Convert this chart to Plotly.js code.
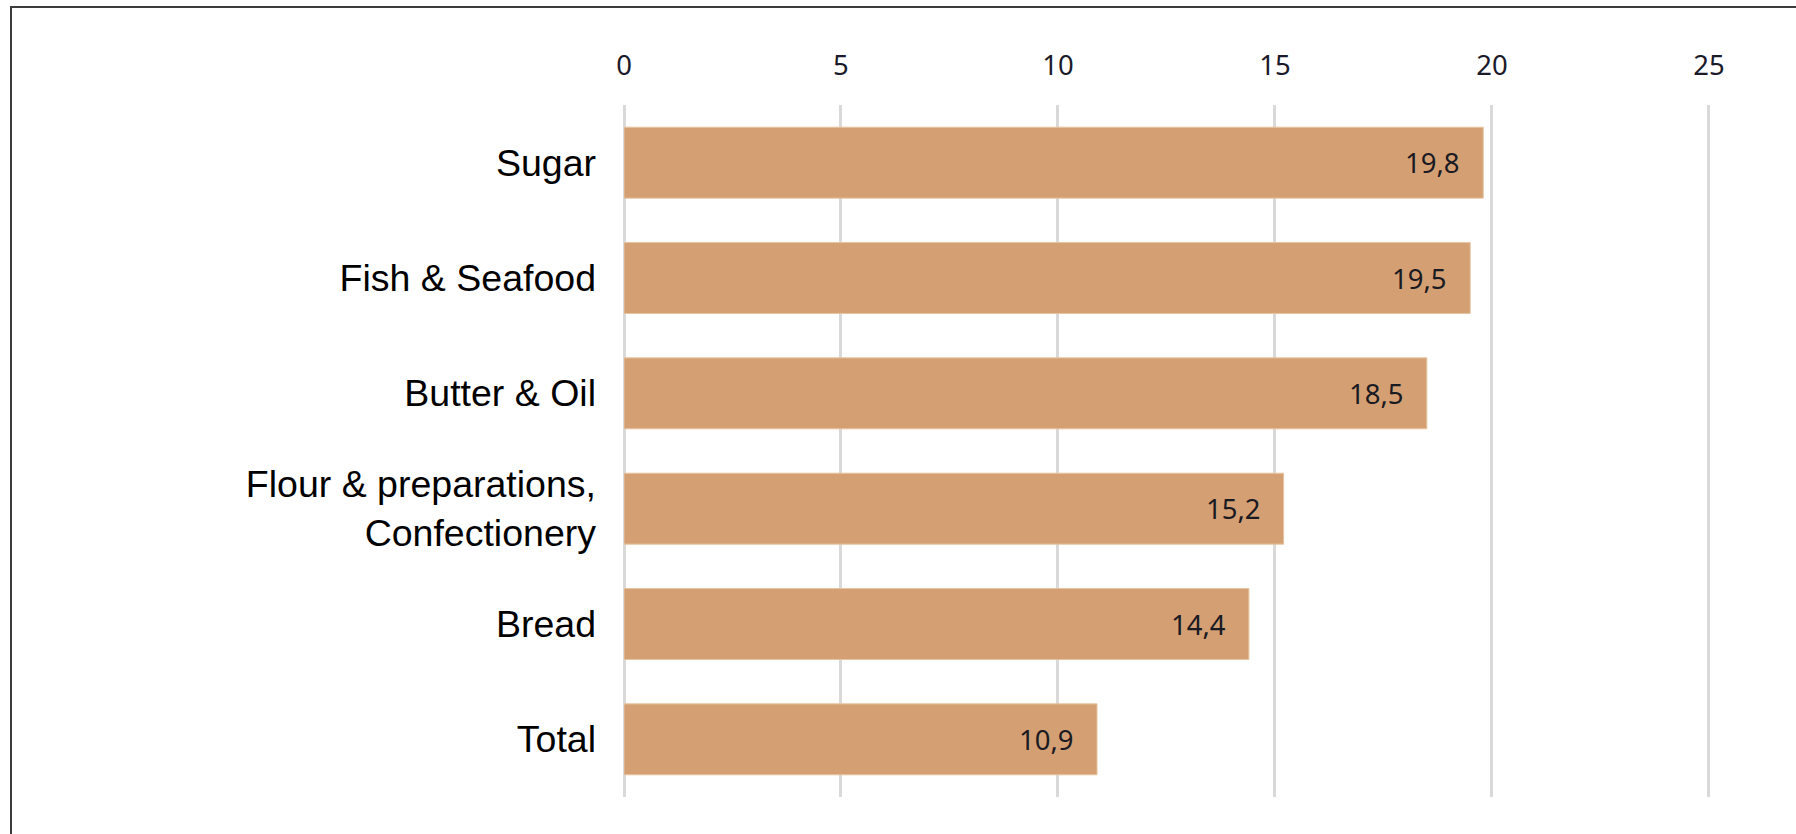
<!DOCTYPE html>
<html>
<head>
<meta charset="utf-8">
<script src="https://cdn.plot.ly/plotly-3.0.1.min.js"></script>
<style>
  html, body { margin: 0; padding: 0; background: #ffffff; overflow: hidden; }
  #chart { width: 1796px; height: 834px; }
  #frame { position: absolute; left: 10px; top: 6px; width: 2000px; height: 1000px;
           border-left: 2px solid #3c3c3c; border-top: 2px solid #3c3c3c; pointer-events: none; }
</style>
</head>
<body>
<div id="chart"></div>
<div id="frame"></div>
<script>
// Data
const categories = ["Sugar", "Fish & Seafood", "Butter & Oil", "Flour & preparations,<br>Confectionery", "Bread", "Total"];
const values = [19.8, 19.5, 18.5, 15.2, 14.4, 10.9];
const tickValues = [0, 5, 10, 15, 20, 25];
const tickLabels = ["0", "5", "10", "15", "20", "25"];

const barColor = "#D4A073";

const trace = {
  type: "bar",
  orientation: "h",
  x: values,
  y: categories,
  marker: { color: barColor, line: { color: "#E6C4A2", width: 1 } },
  hoverinfo: "skip",
  showlegend: false
};

const annotations = values.map((v, i) => ({
  x: v,
  y: categories[i],
  xref: "x",
  yref: "y",
  text: v.toFixed(1).replace(".", ","),
  showarrow: false,
  xanchor: "right",
  yanchor: "middle",
  xshift: -21,
  font: { family: "Noto Sans, Open Sans, sans-serif", size: 27.5, color: "#1a1a22" }
}));

const layout = {
  width: 1796,
  height: 834,
  margin: { l: 624, r: 22, t: 105, b: 37 },
  paper_bgcolor: "#ffffff",
  plot_bgcolor: "#ffffff",
  separators: ", ",
  bargap: 0.385,
  xaxis: {
    side: "top",
    range: [0, 26.5],
    tickvals: tickValues,
    ticktext: tickLabels,
    showgrid: true,
    gridcolor: "#d9d9d9",
    gridwidth: 3,
    zeroline: true,
    zerolinecolor: "#d9d9d9",
    zerolinewidth: 3,
    showline: false,
    ticks: "",
    ticklabelstandoff: 24,
    tickfont: { family: "Noto Sans, Open Sans, sans-serif", size: 27.5, color: "#1a1a2a" },
    fixedrange: true
  },
  yaxis: {
    type: "category",
    categoryorder: "array",
    categoryarray: categories,
    autorange: "reversed",
    showgrid: false,
    zeroline: false,
    showline: false,
    ticks: "",
    ticklabelstandoff: 27,
    tickfont: { family: "Liberation Sans, Arial, sans-serif", size: 37.5, color: "#000000" },
    fixedrange: true
  },
  annotations: annotations
};

Plotly.newPlot("chart", [trace], layout, { displayModeBar: false, staticPlot: true });
</script>
</body>
</html>
